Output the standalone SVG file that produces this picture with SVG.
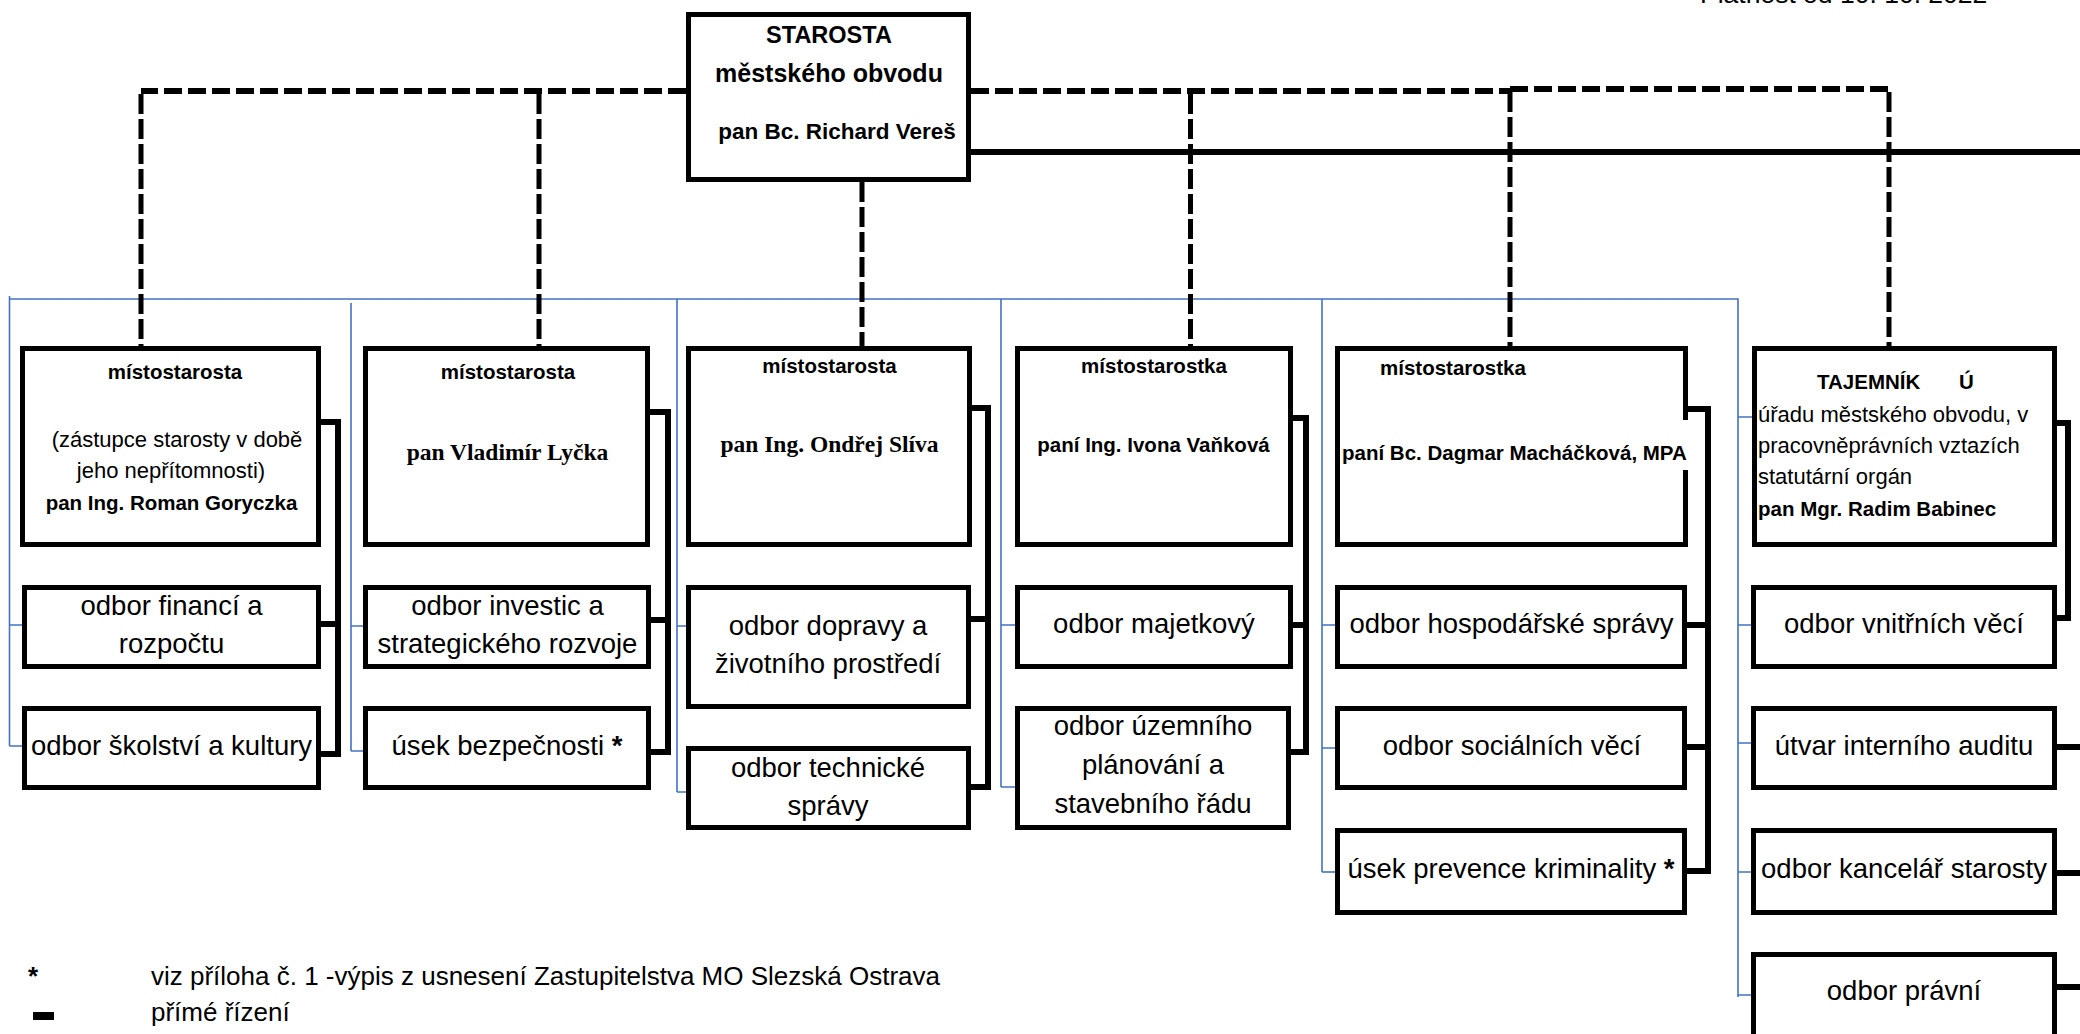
<svg xmlns="http://www.w3.org/2000/svg" width="2080" height="1034" viewBox="0 0 2080 1034">
<style>
.bg{fill:#fff}
.box{fill:#fff;stroke:#000;stroke-width:5}
.edge{fill:none;stroke:#000;stroke-width:5}
.t{font-family:"Liberation Sans",Arial,sans-serif;fill:#000}
.b{font-weight:bold}
.sr{font-family:"Liberation Serif","Times New Roman",serif;font-weight:bold;fill:#000;font-size:23.5px;text-anchor:middle}
.head{font-size:20.5px}
.reg{font-size:22px}
.dept{font-size:27.5px;text-anchor:middle}
.mid{text-anchor:middle}
.dashH{fill:none;stroke:#000;stroke-width:6;stroke-dasharray:18 6}
.dashV{fill:none;stroke:#000;stroke-width:5;stroke-dasharray:20 5}
.solid{fill:none;stroke:#000;stroke-width:6}
.blue{fill:none;stroke:#4472C4;stroke-width:1.6}
</style>
<rect class="bg" x="0" y="0" width="2080" height="1034"/>

<text class="t" x="1700" y="3" font-size="26.5">Platnost od 10. 10. 2022</text>

<g id="connectors">
  <!-- blue thin frame lines -->
  <path class="blue" d="M9.5,299 H1738 V997"/>
  <path class="blue" d="M9.5,296 V746 M9.5,625 H22 M9.5,746 H22"/>
  <path class="blue" d="M351,303 V751 M351,626 H363 M351,751 H367"/>
  <path class="blue" d="M677,299 V792 M677,626 H686 M677,792 H686"/>
  <path class="blue" d="M1001,299 V787 M1001,625 H1015 M1001,787 H1015"/>
  <path class="blue" d="M1322,299 V872 M1322,625 H1335 M1322,748 H1335"/>
  <path class="blue" d="M1322,872 H1335" stroke-width="3"/>
  <path class="blue" d="M1738,417 H1754 M1738,625 H1751 M1738,743 H1751 M1738,872 H1751 M1738,995 H1751"/>

  <!-- dashed lines from STAROSTA -->
  <path class="dashH" d="M686,91 H141"/>
  <path class="dashV" d="M141,94 V346"/>
  <path class="dashV" d="M539,94 V346"/>
  <path class="dashV" d="M862,182 V346"/>
  <path class="dashH" d="M971,91 H1510"/>
  <path class="dashH" d="M1510,89 H1889"/>
  <path class="dashV" d="M1190.5,94 V346"/>
  <path class="dashV" d="M1510,92 V346"/>
  <path class="dashV" d="M1889,92 V346"/>

  <!-- solid direct line -->
  <path class="solid" d="M971,152 H2080" stroke-width="5.5"/>

  <!-- direct management brackets -->
  <path class="solid" d="M321,422 H338 V754 H321 M321,624 H338"/>
  <path class="solid" d="M650,412 H668 V752 H650 M650,620 H668"/>
  <path class="solid" d="M971,408 H988 V787 H971 M971,619 H988"/>
  <path class="solid" d="M1293,418 H1306 V752 H1291 M1293,625 H1306"/>
  <path class="solid" d="M1687,409 H1708 V871 H1687 M1687,625 H1708 M1687,747 H1708"/>
  <path class="solid" d="M2057,423 H2068 V618 H2057"/>
  <path class="solid" d="M2057,747 H2080 M2057,873 H2080 M2057,987 H2080"/>
</g>

<g id="starosta">
  <rect class="box" x="688.5" y="14.5" width="280" height="165"/>
  <text class="t b mid" x="829" y="43" font-size="23.5">STAROSTA</text>
  <text class="t b mid" x="829" y="82" font-size="25">městského obvodu</text>
  <text class="t b mid" x="837" y="139" font-size="22.5">pan Bc. Richard Vereš</text>
</g>

<g id="mistostarosta-goryczka">
  <rect class="box" x="22.5" y="348.5" width="296" height="196"/>
  <text class="t b head mid" x="175" y="379">místostarosta</text>
  <text class="t reg mid" x="177" y="447">(zástupce starosty v době</text>
  <text class="t reg mid" x="171" y="478">jeho nepřítomnosti)</text>
  <text class="t b head mid" x="171.5" y="510">pan Ing. Roman Goryczka</text>
</g>

<g id="mistostarosta-lycka">
  <rect class="box" x="365.5" y="348.5" width="282" height="196"/>
  <text class="t b head mid" x="508" y="379">místostarosta</text>
  <text class="sr" x="507.5" y="460">pan Vladimír Lyčka</text>
</g>

<g id="mistostarosta-sliva">
  <rect class="box" x="688.5" y="348.5" width="281" height="196"/>
  <text class="t b head mid" x="829.5" y="373">místostarosta</text>
  <text class="sr" x="829.5" y="452">pan Ing. Ondřej Slíva</text>
</g>

<g id="mistostarostka-vankova">
  <rect class="box" x="1017.5" y="348.5" width="273" height="196"/>
  <text class="t b head mid" x="1154" y="373">místostarostka</text>
  <text class="t b head mid" x="1153.5" y="452">paní Ing. Ivona Vaňková</text>
</g>

<g id="mistostarostka-machackova">
  <rect class="bg" x="1337.5" y="348.5" width="348" height="196"/>
  <path class="edge" d="M1685.5,420 V348.5 H1337.5 V544.5 H1685.5 V470"/>
  <text class="t b head" x="1380" y="375">místostarostka</text>
  <text class="t b head" x="1342" y="460">paní Bc. Dagmar Macháčková, MPA</text>
</g>

<g id="tajemnik">
  <rect class="box" x="1754.5" y="348.5" width="300" height="196"/>
  <text class="t b head" y="389"><tspan x="1817">TAJEMNÍK</tspan><tspan x="1959">Ú</tspan></text>
  <text class="t reg" x="1758" y="422">úřadu městského obvodu, v</text>
  <text class="t reg" x="1758" y="453">pracovněprávních vztazích</text>
  <text class="t reg" x="1758" y="484">statutární orgán</text>
  <text class="t b head" x="1758" y="516">pan Mgr. Radim Babinec</text>
</g>

<g id="odbor-financi">
  <rect class="box" x="24.5" y="587.5" width="294" height="79"/>
  <text class="t dept" x="171.5" y="615">odbor financí a</text>
  <text class="t dept" x="171.5" y="653">rozpočtu</text>
</g>
<g id="odbor-skolstvi">
  <rect class="box" x="24.5" y="708.5" width="294" height="79"/>
  <text class="t dept" x="171.5" y="755">odbor školství a kultury</text>
</g>

<g id="odbor-investic">
  <rect class="box" x="365.5" y="587.5" width="283" height="79"/>
  <text class="t dept" x="507.5" y="615">odbor investic a</text>
  <text class="t dept" x="507.5" y="653">strategického rozvoje</text>
</g>
<g id="usek-bezpecnosti">
  <rect class="box" x="365.5" y="708.5" width="283" height="79"/>
  <text class="t dept" x="507" y="755">úsek bezpečnosti <tspan class="b">*</tspan></text>
</g>

<g id="odbor-dopravy">
  <rect class="box" x="688.5" y="587.5" width="280" height="119"/>
  <text class="t dept" x="828" y="635">odbor dopravy a</text>
  <text class="t dept" x="828" y="673">životního prostředí</text>
</g>
<g id="odbor-technicke-spravy">
  <rect class="box" x="688.5" y="748.5" width="280" height="79"/>
  <text class="t dept" x="828" y="777">odbor technické</text>
  <text class="t dept" x="828" y="815">správy</text>
</g>

<g id="odbor-majetkovy">
  <rect class="box" x="1017.5" y="587.5" width="273" height="79"/>
  <text class="t dept" x="1154" y="633">odbor majetkový</text>
</g>
<g id="odbor-uzemniho">
  <rect class="box" x="1017.5" y="708.5" width="271" height="119"/>
  <text class="t dept" x="1153" y="735">odbor územního</text>
  <text class="t dept" x="1153" y="774">plánování a</text>
  <text class="t dept" x="1153" y="813">stavebního řádu</text>
</g>

<g id="odbor-hospodarske-spravy">
  <rect class="box" x="1337.5" y="587.5" width="347" height="79"/>
  <text class="t dept" x="1511.5" y="633">odbor hospodářské správy</text>
</g>
<g id="odbor-socialnich-veci">
  <rect class="box" x="1337.5" y="708.5" width="347" height="79"/>
  <text class="t dept" x="1512" y="755">odbor sociálních věcí</text>
</g>
<g id="usek-prevence">
  <rect class="box" x="1337.5" y="830.5" width="347" height="82"/>
  <text class="t dept" x="1511" y="878">úsek prevence kriminality <tspan class="b">*</tspan></text>
</g>

<g id="odbor-vnitrnich-veci">
  <rect class="box" x="1753.5" y="587.5" width="301" height="79"/>
  <text class="t dept" x="1904" y="633">odbor vnitřních věcí</text>
</g>
<g id="utvar-interniho-auditu">
  <rect class="box" x="1753.5" y="708.5" width="301" height="79"/>
  <text class="t dept" x="1904" y="755">útvar interního auditu</text>
</g>
<g id="odbor-kancelar-starosty">
  <rect class="box" x="1753.5" y="830.5" width="301" height="82"/>
  <text class="t dept" x="1904" y="878">odbor kancelář starosty</text>
</g>
<g id="odbor-pravni">
  <rect class="box" x="1753.5" y="954.5" width="301" height="100"/>
  <text class="t dept" x="1904" y="1000">odbor právní</text>
</g>

<g id="legend">
  <text class="t b" x="28" y="985" font-size="26">*</text>
  <text class="t" x="151" y="985" font-size="26">viz příloha č. 1 -výpis z usnesení Zastupitelstva MO Slezská Ostrava</text>
  <rect x="33" y="1012" width="21" height="8" fill="#000"/>
  <text class="t" x="151" y="1021" font-size="26">přímé řízení</text>
</g>
</svg>
